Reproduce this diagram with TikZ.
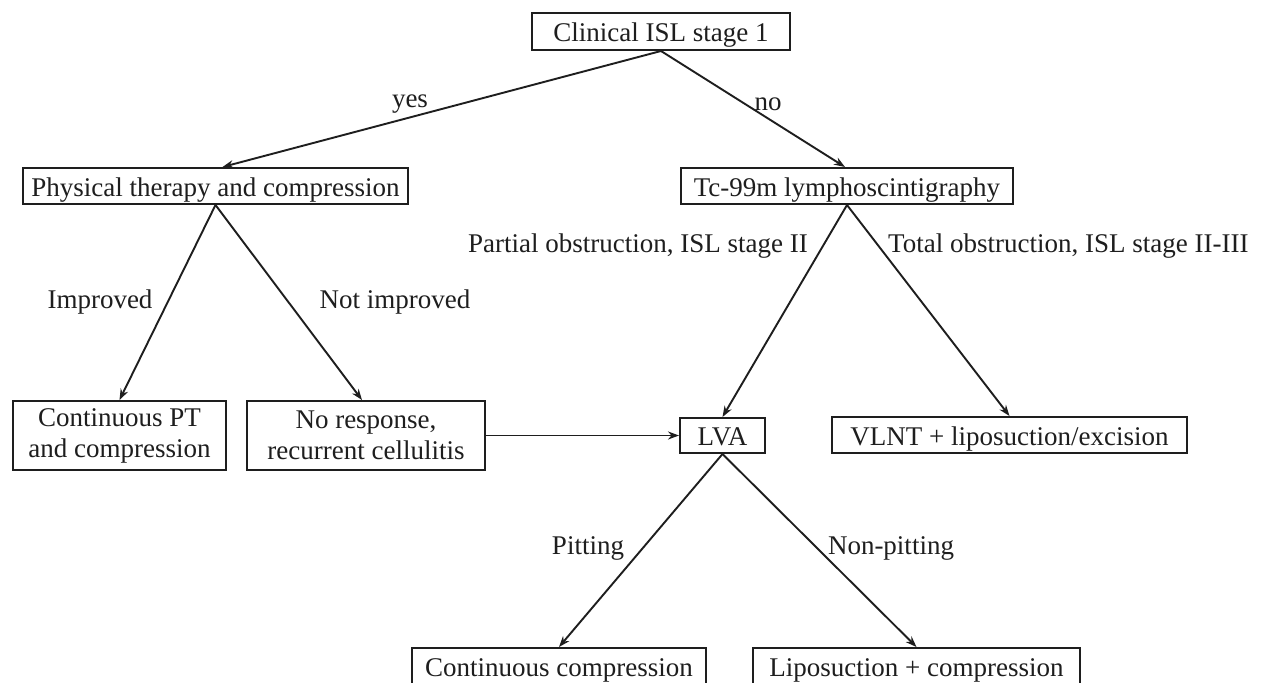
\documentclass[tikz,border=0pt]{standalone}
\usepackage{fontspec}
\setmainfont{Liberation Serif}
\usetikzlibrary{arrows.meta,calc}
\definecolor{ink}{HTML}{1E1E1E}
\begin{document}
\begin{tikzpicture}[x=1pt,y=-1pt,
  every node/.style={font=\fontsize{27}{32}\selectfont, text=ink},
  box/.style={draw=ink, line width=2pt, inner sep=0pt, align=center},
  onebox/.style={box, text height=21pt, text depth=1pt},
  lbl/.style={inner sep=0pt, anchor=center},
  conn/.style={draw=ink, line width=1.9pt, -{Stealth[length=11pt,width=8pt]}}]
\useasboundingbox[fill=white] (0,0) rectangle (1262,683);
% boxes
\node[onebox, minimum width=258pt, minimum height=37pt] (c1) at (661,31.5) {Clinical ISL stage 1};
\node[onebox, minimum width=385pt, minimum height=36pt] (pt) at (215.5,186) {Physical therapy and compression};
\node[onebox, minimum width=332pt, minimum height=36pt] (tc) at (847,186) {Tc-99m lymphoscintigraphy};
\node[box, minimum width=213pt, minimum height=69pt] (cpt) at (119.5,435.5) {\raisebox{-3pt}{Continuous PT}\\[-1pt]\raisebox{-3pt}{and compression}};
\node[box, minimum width=238pt, minimum height=69pt] (nr) at (366,435.5) {\raisebox{-3pt}{No response,}\\[-1pt]\raisebox{-3pt}{recurrent cellulitis}};
\node[onebox, minimum width=85pt, minimum height=35pt] (lva) at (722.5,435.5) {LVA};
\node[onebox, minimum width=355pt, minimum height=36pt] (vlnt) at (1009.5,435) {VLNT + liposuction/excision};
\node[onebox, minimum width=294pt, minimum height=36pt] (cc) at (559,666) {Continuous compression};
\node[onebox, minimum width=327pt, minimum height=36pt] (lc) at (916.5,666) {Liposuction + compression};
% connectors
\draw[conn] (c1.south) -- ($(pt.north)+(7,0)$);
\draw[conn] (c1.south) -- ($(tc.north)+(-2,0)$);
\draw[conn] (pt.south) -- (cpt.north);
\draw[conn] (pt.south) -- ($(nr.north)+(-4,0)$);
\draw[conn] (tc.south) -- (lva.north);
\draw[conn] (tc.south) -- (vlnt.north);
\draw[conn] (nr.east) -- (lva.west);
\draw[conn] (lva.south) -- (cc.north);
\draw[conn] (lva.south) -- (lc.north);
% labels
\node[lbl] (lyes) at (410,104) {yes};
\node[lbl] (lno) at (768,104) {no};
\node[lbl] (limp) at (100,302) {Improved};
\node[lbl] (lnimp) at (395,302) {Not improved};
\node[lbl, anchor=east] (lpart) at (808,246) {Partial obstruction, ISL stage II};
\node[lbl, anchor=west] (ltot) at (888,246) {Total obstruction, ISL stage II-III};
\node[lbl] (lpit) at (588,548) {Pitting};
\node[lbl] (lnpit) at (891,548) {Non-pitting};
\end{tikzpicture}
\end{document}
